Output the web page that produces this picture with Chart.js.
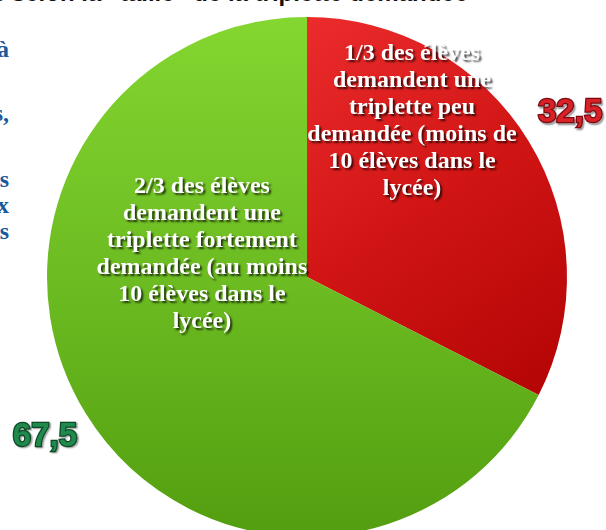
<!DOCTYPE html>
<html lang="fr">
<head>
<meta charset="utf-8">
<script src="https://cdn.jsdelivr.net/npm/chart.js@4/dist/chart.umd.min.js"></script>
<style>
  html, body { margin: 0; padding: 0; background: #fff; overflow: hidden; width: 606px; height: 530px; }
  #wrap { position: relative; width: 606px; height: 530px; overflow: hidden; }
  #chart { position: absolute; left: 0; top: 0; }
  .title { position: absolute; right: 138px; top: -21px; font: bold 24px "Liberation Sans", Arial, sans-serif; color: #111; white-space: nowrap; }
  .side { position: absolute; right: 597px; font: bold 24px "Liberation Serif", "Times New Roman", serif; color: #1a5a9c; white-space: nowrap; line-height: 26px; text-align: right; }
</style>
</head>
<body>
<div id="wrap">
  <div class="title">Répartition des élèves selon la “taille” de la triplette demandée</div>
  <div class="side" style="top:36px">à</div>
  <div class="side" style="top:100px">s,</div>
  <div class="side" style="top:166px">s<br>x<br>s</div>
  <canvas id="chart" width="606" height="560"></canvas>
</div>
<script>
// slices, clockwise from the top
const categories = ['peu demandée', 'fortement demandée'];
const values = [32.5, 67.5];
const descriptions = [
  ['1/3 des élèves', 'demandent une', 'triplette peu', 'demandée (moins de', '10 élèves dans le', 'lycée)'],
  ['2/3 des élèves', 'demandent une', 'triplette fortement', 'demandée (au moins', '10 élèves dans le', 'lycée)']
];
const valueColors = ['#d92128', '#1f8a4c'];
const valueShadows = ['#7a0a10', '#0c4a28'];

// where the texts sit, in units of the pie radius from its centre
const descPos = [[0.404, -0.60], [-0.404, -0.087]];
const valuePos = [[1.012, -0.63], [-1.008, 0.615]];

function fmt(v) {
  return new Intl.NumberFormat('fr-FR').format(v);
}

const labelPlugin = {
  id: 'sliceText',
  afterDraw(chart) {
    const arc = chart.getDatasetMeta(0).data[0];
    const cx = arc.x, cy = arc.y, r = arc.outerRadius;
    const ctx = chart.ctx;
    ctx.save();
    ctx.textAlign = 'center';
    ctx.textBaseline = 'middle';
    // slice descriptions
    ctx.font = 'bold 24px "Liberation Serif", "Times New Roman", serif';
    descriptions.forEach((lines, i) => {
      const x = cx + descPos[i][0] * r;
      const y0 = cy + descPos[i][1] * r - (lines.length - 1) * 27 / 2;
      lines.forEach((line, j) => {
        ctx.shadowColor = 'rgba(0,0,0,0.7)';
        ctx.shadowOffsetX = 2;
        ctx.shadowOffsetY = 2;
        ctx.shadowBlur = 2;
        ctx.fillStyle = '#ffffff';
        ctx.fillText(line, x, y0 + j * 27);
      });
    });
    // values
    ctx.font = 'bold 33px "Liberation Sans", Arial, sans-serif';
    values.forEach((v, i) => {
      const x = cx + valuePos[i][0] * r;
      const y = cy + valuePos[i][1] * r;
      ctx.shadowColor = 'rgba(0,0,0,0.4)';
      ctx.shadowOffsetX = 1.5;
      ctx.shadowOffsetY = 1.5;
      ctx.shadowBlur = 1.5;
      ctx.lineWidth = 2.5;
      ctx.strokeStyle = valueShadows[i];
      ctx.strokeText(fmt(v), x, y);
      ctx.shadowColor = 'transparent';
      ctx.fillStyle = valueColors[i];
      ctx.fillText(fmt(v), x, y);
    });
    ctx.restore();
  }
};

function sliceFill(context) {
  const chart = context.chart;
  const area = chart.chartArea;
  if (!area) return context.dataIndex === 0 ? '#d81a1a' : '#6cbc22';
  const g = context.dataIndex === 0
    ? chart.ctx.createLinearGradient(area.left + area.width / 2, area.top, area.right, area.top + area.height * 0.72)
    : chart.ctx.createLinearGradient(0, area.top, 0, area.bottom);
  if (context.dataIndex === 0) {
    g.addColorStop(0, '#ec2c2c');
    g.addColorStop(0.5, '#d01414');
    g.addColorStop(1, '#b30404');
  } else {
    g.addColorStop(0, '#84d630');
    g.addColorStop(0.5, '#6cbc22');
    g.addColorStop(1, '#539e10');
  }
  return g;
}

new Chart(document.getElementById('chart'), {
  type: 'pie',
  data: {
    labels: categories,
    datasets: [{
      data: values,
      backgroundColor: sliceFill,
      borderWidth: 0
    }]
  },
  options: {
    responsive: false,
    animation: false,
    layout: { padding: { left: 47, right: 39, top: 17, bottom: 23 } },
    plugins: { legend: { display: false }, tooltip: { enabled: false } }
  },
  plugins: [labelPlugin]
});
</script>
</body>
</html>
